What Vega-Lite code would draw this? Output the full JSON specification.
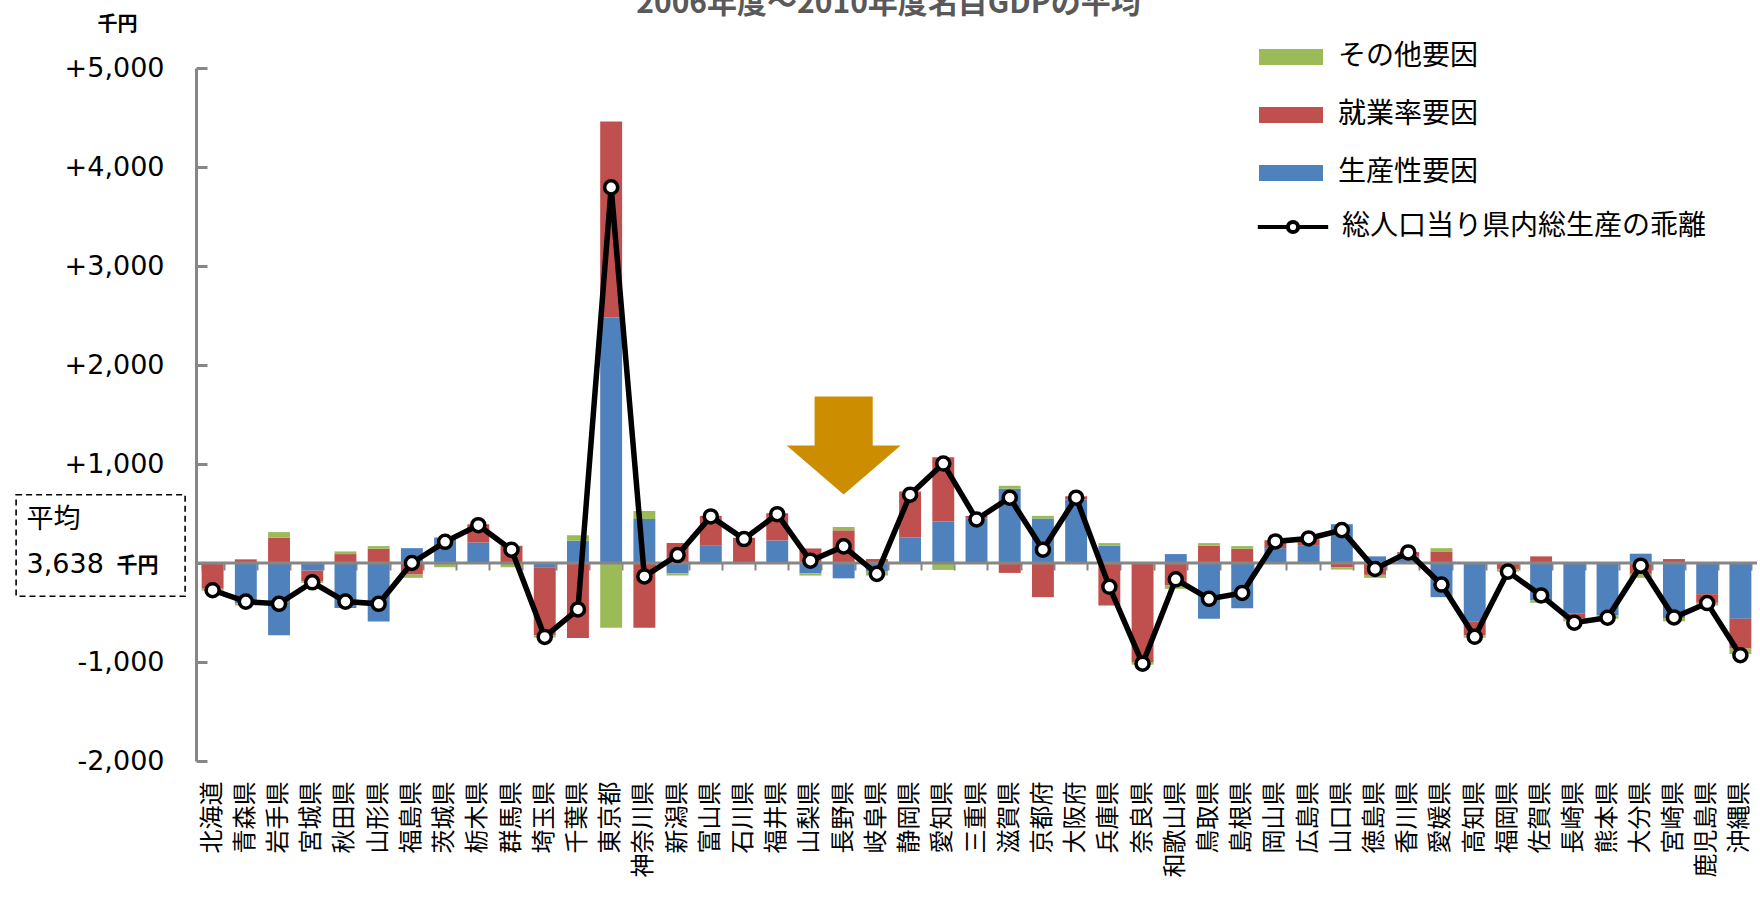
{
  "$schema": "https://vega.github.io/schema/vega-lite/v6.json",
  "width": 1561,
  "height": 693,
  "autosize": {"type": "none"},
  "padding": {"left": 196, "top": 68, "right": 3, "bottom": 141},
  "background": "white",
  "title": {"text": "2006年度～2010年度名目GDPの平均", "font": "Noto Sans CJK JP", "fontSize": 30, "fontWeight": "bold", "color": "#595959", "anchor": "middle", "frame": "group", "dx": -88, "dy": 5, "offset": 0},
  "config": {"view": {"stroke": null}, "font": "Noto Sans CJK JP"},
  "data": {"values": [
    {"pref": "北海道", "生産性要因": 0, "就業率要因": -260, "その他要因": -20, "total": -275},
    {"pref": "青森県", "生産性要因": -405, "就業率要因": 37, "その他要因": -23, "total": -390},
    {"pref": "岩手県", "生産性要因": -730, "就業率要因": 255, "その他要因": 57, "total": -412},
    {"pref": "宮城県", "生産性要因": -77, "就業率要因": -107, "その他要因": -17, "total": -195},
    {"pref": "秋田県", "生産性要因": -455, "就業率要因": 90, "その他要因": 27, "total": -390},
    {"pref": "山形県", "生産性要因": -590, "就業率要因": 144, "その他要因": 27, "total": -412},
    {"pref": "福島県", "生産性要因": 150, "就業率要因": -117, "その他要因": -33, "total": 0},
    {"pref": "茨城県", "生産性要因": 258, "就業率要因": 0, "その他要因": -43, "total": 214},
    {"pref": "栃木県", "生産性要因": 208, "就業率要因": 184, "その他要因": 0, "total": 382},
    {"pref": "群馬県", "生産性要因": 0, "就業率要因": 174, "その他要因": -43, "total": 134},
    {"pref": "埼玉県", "生産性要因": -43, "就業率要因": -687, "その他要因": -23, "total": -747},
    {"pref": "千葉県", "生産性要因": 224, "就業率要因": -757, "その他要因": 57, "total": -469},
    {"pref": "東京都", "生産性要因": 2480, "就業率要因": 1980, "その他要因": -655, "total": 3794},
    {"pref": "神奈川県", "生産性要因": 445, "就業率要因": -655, "その他要因": 80, "total": -136},
    {"pref": "新潟県", "生産性要因": -104, "就業率要因": 201, "その他要因": -23, "total": 80},
    {"pref": "富山県", "生産性要因": 174, "就業率要因": 302, "その他要因": 0, "total": 470},
    {"pref": "石川県", "生産性要因": 0, "就業率要因": 255, "その他要因": 0, "total": 242},
    {"pref": "福井県", "生産性要因": 228, "就業率要因": 275, "その他要因": 0, "total": 493},
    {"pref": "山梨県", "生産性要因": -104, "就業率要因": 147, "その他要因": -23, "total": 23},
    {"pref": "長野県", "生産性要因": -155, "就業率要因": 330, "その他要因": 34, "total": 168},
    {"pref": "岐阜県", "生産性要因": -87, "就業率要因": 40, "その他要因": -40, "total": -110},
    {"pref": "静岡県", "生産性要因": 258, "就業率要因": 465, "その他要因": 0, "total": 690},
    {"pref": "愛知県", "生産性要因": 419, "就業率要因": 650, "その他要因": -70, "total": 1005},
    {"pref": "三重県", "生産性要因": 452, "就業率要因": 23, "その他要因": 0, "total": 440},
    {"pref": "滋賀県", "生産性要因": 750, "就業率要因": -100, "その他要因": 30, "total": 660},
    {"pref": "京都府", "生産性要因": 449, "就業率要因": -345, "その他要因": 27, "total": 134},
    {"pref": "大阪府", "生産性要因": 640, "就業率要因": 34, "その他要因": 0, "total": 660},
    {"pref": "兵庫県", "生産性要因": 174, "就業率要因": -429, "その他要因": 27, "total": -240},
    {"pref": "奈良県", "生産性要因": 0, "就業率要因": -1000, "その他要因": -27, "total": -1017},
    {"pref": "和歌山県", "生産性要因": 90, "就業率要因": -228, "その他要因": -33, "total": -165},
    {"pref": "鳥取県", "生産性要因": -563, "就業率要因": 174, "その他要因": 27, "total": -362},
    {"pref": "島根県", "生産性要因": -456, "就業率要因": 144, "その他要因": 27, "total": -302},
    {"pref": "岡山県", "生産性要因": 150, "就業率要因": 80, "その他要因": 0, "total": 218},
    {"pref": "広島県", "生産性要因": 174, "就業率要因": 67, "その他要因": 0, "total": 248},
    {"pref": "山口県", "生産性要因": 392, "就業率要因": -43, "その他要因": -23, "total": 332},
    {"pref": "徳島県", "生産性要因": 67, "就業率要因": -120, "その他要因": -30, "total": -60},
    {"pref": "香川県", "生産性要因": 65, "就業率要因": 45, "その他要因": 0, "total": 107},
    {"pref": "愛媛県", "生産性要因": -345, "就業率要因": 117, "その他要因": 33, "total": -218},
    {"pref": "高知県", "生産性要因": -590, "就業率要因": -141, "その他要因": -23, "total": -745},
    {"pref": "福岡県", "生産性要因": 0, "就業率要因": -60, "その他要因": -27, "total": -87},
    {"pref": "佐賀県", "生産性要因": -379, "就業率要因": 67, "その他要因": -23, "total": -328},
    {"pref": "長崎県", "生産性要因": -513, "就業率要因": -50, "その他要因": -27, "total": -603},
    {"pref": "熊本県", "生産性要因": -530, "就業率要因": 0, "その他要因": -33, "total": -553},
    {"pref": "大分県", "生産性要因": 94, "就業率要因": -110, "その他要因": -40, "total": -27},
    {"pref": "宮崎県", "生産性要因": -556, "就業率要因": 40, "その他要因": -33, "total": -550},
    {"pref": "鹿児島県", "生産性要因": -315, "就業率要因": -87, "その他要因": -27, "total": -405},
    {"pref": "沖縄県", "生産性要因": -563, "就業率要因": -302, "その他要因": -54, "total": -931}
  ]},
  "layer": [
    {
      "transform": [{"fold": ["生産性要因", "就業率要因", "その他要因"], "as": ["factor", "value"]}],
      "mark": {"type": "bar"},
      "encoding": {
        "x": {"field": "pref", "type": "nominal", "sort": null,
          "scale": {"paddingInner": 0.34, "paddingOuter": 0.17},
          "axis": {"orient": "bottom", "title": null, "labelAngle": -90, "labelAlign": "right", "labelBaseline": "middle", "labelFont": "Noto Sans CJK JP", "labelFontSize": 24, "labelColor": "black", "labelPadding": 20, "ticks": false, "domain": false, "grid": false, "labelOverlap": false, "labelLimit": 300}},
        "y": {"field": "value", "type": "quantitative", "stack": "zero",
          "scale": {"domain": [-2000, 5000], "nice": false, "zero": false},
          "axis": {"title": "千円", "titleAngle": 0, "titleFont": "Noto Sans CJK JP", "titleFontWeight": "bold", "titleFontSize": 20, "titleColor": "black", "titleX": -79, "titleY": -38, "titleAlign": "center", "titleBaseline": "alphabetic",
            "values": [-2000, -1000, 0, 1000, 2000, 3000, 4000, 5000],
            "labelExpr": "datum.value === 0 ? '' : (datum.value > 0 ? '+' : '-') + format(abs(datum.value), ',')",
            "labelFont": "DejaVu Sans", "labelFontSize": 27, "labelColor": "black", "grid": false,
            "domainColor": "#868686", "domainWidth": 3, "tickColor": "#868686", "tickWidth": 3, "tickSize": -11, "labelPadding": 43}},
        "fill": {"field": "factor", "type": "nominal",
          "scale": {"domain": ["その他要因", "就業率要因", "生産性要因"], "range": ["#9BBB59", "#C0504D", "#4F81BD"]},
          "legend": {"orient": "none", "direction": "vertical", "legendX": 1063, "legendY": -43, "title": null, "labelFont": "Noto Sans CJK JP", "labelFontSize": 28, "labelColor": "black", "labelOffset": 15, "labelLimit": 500, "symbolType": "M-1,-0.25H1V0.25H-1Z", "symbolSize": 4096, "symbolStrokeWidth": 0, "symbolOpacity": 1, "rowPadding": 12, "padding": 0}},
        "order": {"field": "factor", "sort": "descending"}
      }
    },
    {
      "data": {"values": [{}]},
      "mark": {"type": "rule", "color": "#868686", "strokeWidth": 3},
      "encoding": {"y": {"datum": 0}}
    },
    {
      "mark": {"type": "line", "strokeWidth": 5.5},
      "encoding": {
        "x": {"field": "pref", "type": "nominal", "sort": null,
          "axis": {"orient": "bottom", "offset": -198, "labels": false, "ticks": true, "tickBand": "extent", "tickSize": 7, "tickColor": "#868686", "tickWidth": 2, "domain": false, "title": null, "grid": false}},
        "y": {"field": "total", "type": "quantitative"},
        "stroke": {"datum": "総人口当り県内総生産の乖離", "scale": {"range": ["black"]},
          "legend": {"orient": "none", "direction": "vertical", "legendX": 1063, "legendY": 125, "title": null, "labelFont": "Noto Sans CJK JP", "labelFontSize": 28, "labelColor": "black", "labelOffset": 15, "labelLimit": 600, "symbolType": "M-1.1,0H-0.16A0.16,0.16 0 1,1 0.16,0A0.16,0.16 0 1,1 -0.16,0M0.16,0H1.1", "symbolSize": 4096, "symbolStrokeWidth": 4, "symbolFillColor": "white", "symbolStrokeColor": "black", "padding": 0}}
      }
    },
    {
      "mark": {"type": "point", "filled": true, "fill": "white", "stroke": "black", "strokeWidth": 3.5, "size": 170, "opacity": 1},
      "encoding": {
        "x": {"field": "pref", "type": "nominal", "sort": null, "axis": null},
        "y": {"field": "total", "type": "quantitative"}
      }
    },
    {
      "data": {"values": [{}]},
      "mark": {"type": "point", "shape": "M-0.51,-0.86H0.51V0H1L0,0.86L-1,0H-0.51Z", "size": 12996, "filled": true, "fill": "#CC8E00", "strokeWidth": 0, "opacity": 1},
      "encoding": {"x": {"datum": "長野県", "axis": null}, "y": {"datum": 1187}}
    },
    {
      "data": {"values": [{}]},
      "mark": {"type": "point", "shape": "M-1,-0.6H1V0.6H-1Z", "size": 28561, "filled": false, "stroke": "black", "strokeWidth": 1.6, "strokeDash": [6, 4], "opacity": 1, "xOffset": -112},
      "encoding": {"x": {"datum": "北海道", "axis": null}, "y": {"datum": 177}}
    },
    {
      "data": {"values": [{}]},
      "mark": {"type": "text", "text": "平均", "font": "Noto Sans CJK JP", "fontSize": 27, "align": "left", "baseline": "middle", "dx": -186, "color": "black"},
      "encoding": {"x": {"datum": "北海道", "axis": null}, "y": {"datum": 439}}
    },
    {
      "data": {"values": [{}]},
      "mark": {"type": "text", "text": "3,638", "font": "DejaVu Sans", "fontSize": 27, "align": "left", "baseline": "middle", "dx": -186, "color": "black"},
      "encoding": {"x": {"datum": "北海道", "axis": null}, "y": {"datum": -25}}
    },
    {
      "data": {"values": [{}]},
      "mark": {"type": "text", "text": "千円", "font": "Noto Sans CJK JP", "fontSize": 21, "fontWeight": "bold", "align": "left", "baseline": "middle", "dx": -96, "color": "black"},
      "encoding": {"x": {"datum": "北海道", "axis": null}, "y": {"datum": -30}}
    }
  ],
  "resolve": {"axis": {"x": "independent"}}
}
